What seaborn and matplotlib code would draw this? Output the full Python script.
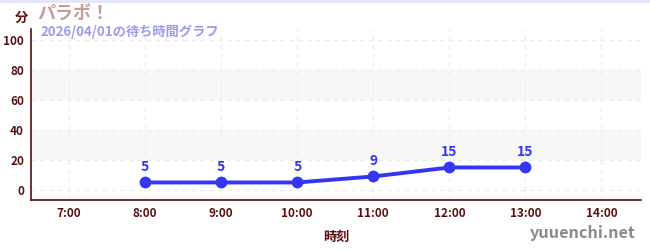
import matplotlib
matplotlib.use("Agg")
import matplotlib.pyplot as plt
import seaborn as sns
import pandas as pd
from matplotlib.ticker import FixedLocator

sns.set_theme(style="white")
plt.rcParams['font.family'] = ['Noto Sans CJK JP', 'DejaVu Sans']

hours = [8, 9, 10, 11, 12, 13]
waits = [5, 5, 5, 9, 15, 15]
tick_hours = [7, 8, 9, 10, 11, 12, 13, 14]
tick_labels = ["7:00", "8:00", "9:00", "10:00", "11:00", "12:00", "13:00", "14:00"]
title = "パラボ！"
subtitle = "2026/04/01の待ち時間グラフ"

df = pd.DataFrame({"hour": hours, "wait": waits})

fig = plt.figure(figsize=(6.5, 2.5), dpi=100)
ax = fig.add_axes([31/650, 1-200/250, 610/650, 171/250])

maroon = "#5a0f0f"
blue = "#3535f5"

ax.set_xlim(6.5, 14.52)
ax.set_ylim(-6.7, 107.4)

for lo, hi in [(20, 40), (60, 80)]:
    ax.axhspan(lo, hi, color="#f7f7f7", zorder=0, lw=0)

ax.set_xticks(tick_hours)
ax.set_xticklabels(tick_labels)
ax.set_yticks([0, 20, 40, 60, 80, 100])
ax.yaxis.set_minor_locator(FixedLocator([10, 30, 50, 70, 90]))
ax.grid(True, which="major", color="#ebebeb", linestyle=(0, (4, 4)), linewidth=0.8)

sns.lineplot(data=df, x="hour", y="wait", ax=ax, color=blue, linewidth=2.8,
             marker="o", markersize=8.5, markeredgewidth=0, zorder=3)

for h, w in zip(hours, waits):
    ax.annotate(str(w), (h, w), xytext=(0, 6), textcoords="offset points",
                ha="center", va="bottom", color=blue, fontsize=10, fontweight="bold")

for s in ["top", "right"]:
    ax.spines[s].set_visible(False)
for s in ["left", "bottom"]:
    ax.spines[s].set_color(maroon)
    ax.spines[s].set_linewidth(1.2)

ax.tick_params(axis="both", which="major", direction="inout", length=6, width=1,
               color=maroon, labelcolor=maroon, labelsize=8.5, pad=2)
ax.tick_params(axis="y", which="minor", direction="out", length=3, width=1, color="#e01010")
for lab in ax.get_xticklabels() + ax.get_yticklabels():
    lab.set_fontweight("bold")

ax.set_xlabel("時刻", color=maroon, fontsize=9.5, fontweight="bold", labelpad=7)
ax.set_ylabel("")

fig.text(15/650, 1-18/250, "分", color=maroon, fontsize=9.5, fontweight="bold", ha="left", va="center")
fig.text(37/650, 1-14/250, title, color="#c89b9b", fontsize=13, fontweight="bold", ha="left", va="center")
fig.text(40/650, 1-32/250, subtitle, color="#9b9bf0", fontsize=9.5, fontweight="bold", ha="left", va="center")
fig.text(636/650, 1-233/250, "yuuenchi.net", color="#8a8a8a", fontsize=11.7, fontweight="bold", ha="right", va="center")

fig.add_artist(plt.Line2D([0, 1], [1-1/250, 1-1/250], color="#e4e4fb", linewidth=2, transform=fig.transFigure))

fig.savefig("out.png", dpi=100)
